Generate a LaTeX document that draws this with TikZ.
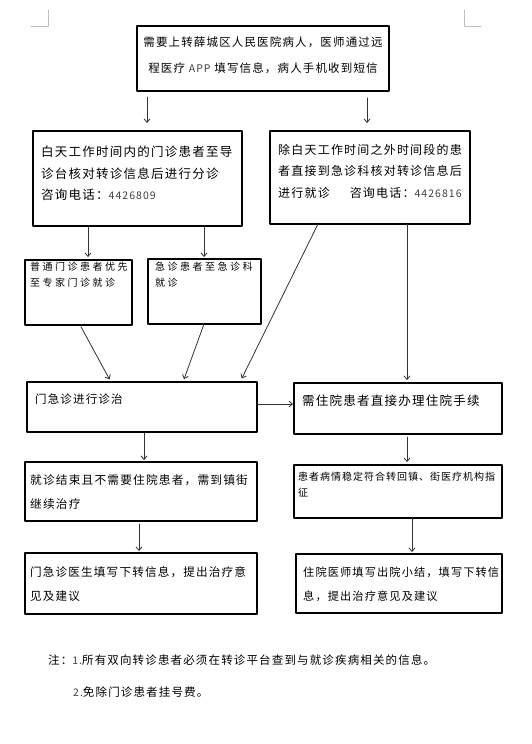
\documentclass[tikz,border=0pt]{standalone}
\usepackage{fontspec}
\usetikzlibrary{arrows.meta}
\newfontfamily\cjk[LetterSpace=10]{Noto Sans CJK SC}
\newfontfamily\cjkwide[LetterSpace=25]{Noto Sans CJK SC}
\newcommand\fsz[2]{\fontsize{#1}{#2}\selectfont}
\newcommand\telno[1]{{\fsz{10.5}{10.5}\color{black!75}#1}}

\begin{document}
\begin{tikzpicture}[x=1pt, y=-1pt, line join=round, line cap=round,
	box/.style={draw, line width=1.1pt, anchor=north west, inner sep=0pt, outer sep=0pt},
	txt/.style={anchor=north west, align=left, inner sep=0pt, font={\cjk\fsz{12}{21.5}}},
	arr/.style={draw=black!80, line width=0.8pt, -{Straight Barb[length=3.5pt,width=6pt]}, shorten >=2pt},
	cropmark/.style={draw=black!25, line width=0.8pt}]
	
	\fill[white] (0,0) rectangle (532,744);
	\useasboundingbox (0,0) rectangle (532,744);
	
	%
	\draw[cropmark] (31,26) -- (48,26) -- (48,10);
	\draw[cropmark] (464,10) -- (464,26) -- (481,26);
	
	% boxes
	\node[box, minimum width=252, minimum height=65] (b1) at (137,26) {};
	\node[box, minimum width=209, minimum height=95] (b2) at (33,131) {};
	\node[box, minimum width=200, minimum height=93] (b3) at (270,131) {};
	\node[box, minimum width=107, minimum height=65] (s1) at (25,260) {};
	\node[box, minimum width=113, minimum height=65] (s2) at (148,259) {};
	\node[box, minimum width=230, minimum height=50] (b4) at (27,382) {};
	\node[box, minimum width=208, minimum height=51] (b5) at (294,383) {};
	\node[box, minimum width=232, minimum height=59] (b6) at (25,462) {};
	\node[box, minimum width=208, minimum height=53] (b7) at (294,465) {};
	\node[box, minimum width=232, minimum height=61] (b8) at (25,553) {};
	\node[box, minimum width=206, minimum height=59] (b9) at (296,554) {};
	
	% texts
	\node[txt, anchor=center, align=center, font={\cjk\fsz{11.5}{26}}] (b1t) at ([shift={(0,-3.5)}]b1.center)
		{需要上转薛城区人民医院病人，医师通过远\\程医疗 \telno{APP} 填写信息，病人手机收到短信};
	\node[txt, font={\cjk\fsz{12.5}{21.5}}] (b2t) at ([shift={(8,15)}]b2.north west)
		{白天工作时间内的门诊患者至导\\诊台核对转诊信息后进行分诊\\咨询电话：\telno{4426809}};
	\node[txt] (b3t) at ([shift={(8,13)}]b3.north west)
		{除白天工作时间之外时间段的患\\者直接到急诊科核对转诊信息后\\进行就诊\hspace{20pt}咨询电话：\telno{4426816}};
	\node[txt, font={\cjkwide\fsz{10}{16}}] (s1t) at ([shift={(5,2)}]s1.north west)
		{普通门诊患者优先\\至专家门诊就诊};
	\node[txt, font={\cjkwide\fsz{10}{16}}] (s2t) at ([shift={(7,3)}]s2.north west)
		{急诊患者至急诊科\\就诊};
	\node[txt, font={\cjk\fsz{11.5}{21.5}}] (b4t) at ([shift={(8,12)}]b4.north west) {门急诊进行诊治};
	\node[txt, font={\cjk\fsz{12.5}{21.5}}] (b5t) at ([shift={(8,12)}]b5.north west) {需住院患者直接办理住院手续};
	\node[txt, font={\cjk\fsz{11.7}{24}}] (b6t) at ([shift={(5,12.5)}]b6.north west)
		{就诊结束且不需要住院患者，需到镇街\\继续治疗};
	\node[txt, font={\cjk\fsz{10}{16}}] (b7t) at ([shift={(4,7)}]b7.north west)
		{患者病情稳定符合转回镇、街医疗机构指\\征};
	\node[txt, font={\cjk\fsz{11.6}{24}}] (b8t) at ([shift={(5,13.5)}]b8.north west)
		{门急诊医生填写下转信息，提出治疗意\\见及建议};
	\node[txt, font={\cjk\fsz{11.2}{24}}] (b9t) at ([shift={(7,13)}]b9.north west)
		{住院医师填写出院小结，填写下转信\\息，提出治疗意见及建议};
	
	% notes
	\node[txt, font={\cjk\fsz{11.5}{12}}] (n1) at (48,654.5) {注：\telno{1.}所有双向转诊患者必须在转诊平台查到与就诊疾病相关的信息。};
	\node[txt, font={\cjk\fsz{11.5}{12}}] (n2) at (73,686.5) {\telno{2.}免除门诊患者挂号费。};
	
	% arrows
	\draw[arr, shorten <=6pt, shorten >=8pt] ([xshift=10pt]b1.south west) -- ([xshift=10pt]b1.south west |- b2.north);
	\draw[arr, shorten <=7pt, shorten >=8pt] ([xshift=230pt]b1.south west) -- ([xshift=230pt]b1.south west |- b3.north);
	\draw[arr, shorten <=1pt, shorten >=3pt] ([xshift=55pt]b2.south west) -- ([xshift=55pt]b2.south west |- s1.north);
	\draw[arr, shorten <=1pt, shorten >=2pt] ([xshift=171pt]b2.south west) -- ([xshift=171pt]b2.south west |- s2.north);
	\draw[arr, shorten >=4pt] ([xshift=48pt]b3.south west) -- ([xshift=213pt]b4.north west);
	\draw[arr, shorten <=2pt, shorten >=3pt] ([xshift=55pt]s1.south west) -- ([xshift=84pt]b4.north west);
	\draw[arr, shorten <=1pt, shorten >=3pt] ([xshift=56pt]s2.south west) -- ([xshift=156pt]b4.north west);
	\draw[arr, shorten >=3pt] ([xshift=137pt]b3.south west) -- ([xshift=137pt]b3.south west |- b5.north);
	\draw[arr, shorten >=1pt] ([yshift=3pt]b4.east) -- ([yshift=3pt]b4.east -| b5.west);
	\draw[arr, shorten <=1pt] ([xshift=117pt]b4.south west) -- ([xshift=117pt]b4.south west |- b6.north);
	\draw[arr, shorten <=3pt, shorten >=3pt] ([xshift=113pt]b5.south west) -- ([xshift=113pt]b5.south west |- b7.north);
	\draw[arr, shorten <=3pt] ([xshift=114pt]b6.south west) -- ([xshift=114pt]b6.south west |- b8.north);
	\draw[arr] ([xshift=118pt]b7.south west) -- ([xshift=118pt]b7.south west |- b9.north);
\end{tikzpicture}
\end{document}
